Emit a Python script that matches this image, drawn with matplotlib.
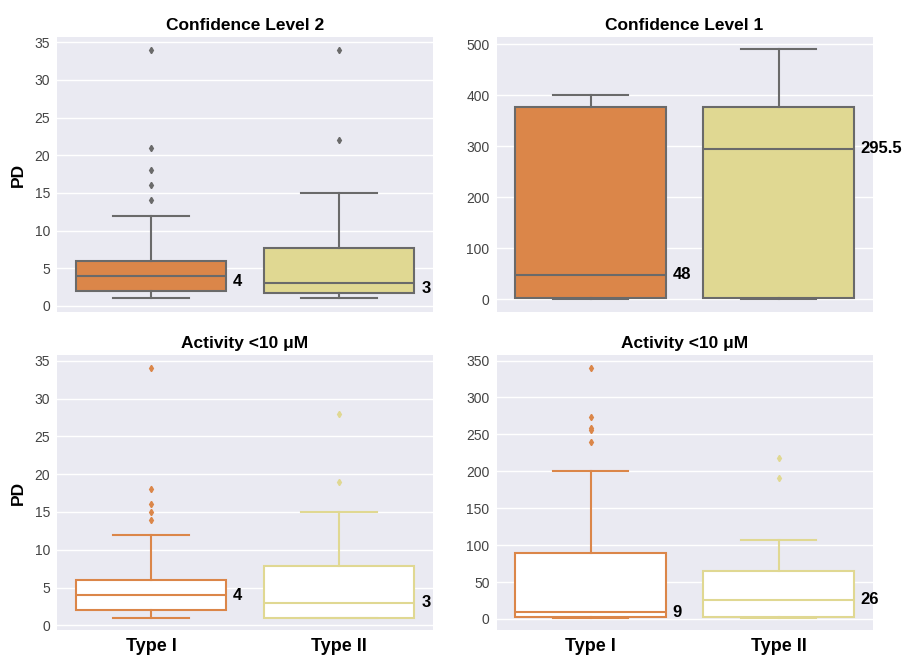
import matplotlib
matplotlib.use("Agg")
import matplotlib.pyplot as plt

plt.rcParams['font.family'] = ['Liberation Sans', 'DejaVu Sans']

categories = ["Type I", "Type II"]
titles = ["Confidence Level 2", "Confidence Level 1", "Activity <10 \u03bcM", "Activity <10 \u03bcM"]

# box statistics per panel: [whislo, q1, med, q3, whishi] for Type I, Type II
cl2_stats = [[1, 2, 4, 6, 12], [1, 1.7, 3, 7.7, 15]]
cl2_fliers = [[14, 16, 18, 21, 34], [22, 34]]
cl1_stats = [[0, 3, 48, 376.5, 400], [0, 2.5, 295.5, 377.5, 490]]
cl1_fliers = [[], []]
act_pd_stats = [[1, 2, 4, 6, 12], [1, 1, 3, 7.8, 15]]
act_pd_fliers = [[14, 15, 16, 18, 34], [19, 28]]
act_2_stats = [[1, 2.5, 9, 89, 200], [1, 3, 26, 65.5, 107]]
act_2_fliers = [[240, 256, 258, 273, 340], [191, 218]]

median_labels = [["4", "3"], ["48", "295.5"], ["4", "3"], ["9", "26"]]
yticks = [[0, 5, 10, 15, 20, 25, 30, 35], [0, 100, 200, 300, 400, 500],
          [0, 5, 10, 15, 20, 25, 30, 35], [0, 50, 100, 150, 200, 250, 300, 350]]
ylims = [(-0.8, 35.7), (-24.5, 514), (-0.6, 35.75), (-15, 357.5)]

colors = ["#DB8649", "#E0D892"]
gray = "#6A6A6A"
bg = "#EAEAF2"

panels = [(cl2_stats, cl2_fliers), (cl1_stats, cl1_fliers),
          (act_pd_stats, act_pd_fliers), (act_2_stats, act_2_fliers)]
filled = [True, True, False, False]
label_dy = [-4, 0, 0, 0]

fig = plt.figure(figsize=(9.02, 6.55), dpi=100)
W, H = 902, 655
rects = [(57, 37, 376, 275), (496.5, 37, 376, 275), (57, 355, 376, 275), (496.5, 355, 376, 275)]

for i, ((stats, fliers), rect) in enumerate(zip(panels, rects)):
    l, t, w, h = rect
    ax = fig.add_axes([l / W, 1 - (t + h) / H, w / W, h / H])
    ax.set_facecolor(bg)
    for s in ax.spines.values():
        s.set_visible(False)
    ax.grid(True, axis='y', color='white', linewidth=1.0)
    ax.set_axisbelow(True)
    bstats = []
    for cat, st, fl in zip(categories, stats, fliers):
        bstats.append(dict(label=cat, whislo=st[0], q1=st[1], med=st[2], q3=st[3],
                           whishi=st[4], fliers=fl))
    for j, bs in enumerate(bstats):
        c = colors[j]
        if filled[i]:
            face, edge = c, gray
            fc = gray
        else:
            face, edge = "white", c
            fc = c
        ax.bxp([bs], positions=[j], widths=0.8, patch_artist=True, showfliers=True,
               boxprops=dict(facecolor=face, edgecolor=edge, linewidth=1.5),
               whiskerprops=dict(color=edge, linewidth=1.5),
               capprops=dict(color=edge, linewidth=1.5),
               medianprops=dict(color=edge, linewidth=1.5),
               flierprops=dict(marker='d', markersize=3.2, markerfacecolor=fc,
                               markeredgecolor=fc, linestyle='none'),
               capwidths=0.4, manage_ticks=False)
        ax.annotate(median_labels[i][j], xy=(j + 0.4, bs['med']), xytext=(5, label_dy[i]),
                    textcoords='offset points', ha='left', va='center',
                    fontsize=12, fontweight='bold', color='black', annotation_clip=False)
    ax.set_xlim(-0.5, 1.5)
    ax.set_ylim(*ylims[i])
    ax.set_yticks(yticks[i])
    ax.tick_params(axis='y', length=0, labelsize=10, labelcolor='#444444', pad=5)
    ax.set_title(titles[i], fontsize=12.5, fontweight='bold', pad=5)
    if i >= 2:
        ax.set_xticks([0, 1])
        ax.set_xticklabels(categories, fontsize=13, fontweight='bold')
        ax.tick_params(axis='x', length=0, pad=6)
    else:
        ax.set_xticks([])
    if i % 2 == 0:
        ax.set_ylabel("PD", fontsize=12.5, fontweight='bold', labelpad=6)

fig.savefig("out.png", dpi=100, facecolor='white')
